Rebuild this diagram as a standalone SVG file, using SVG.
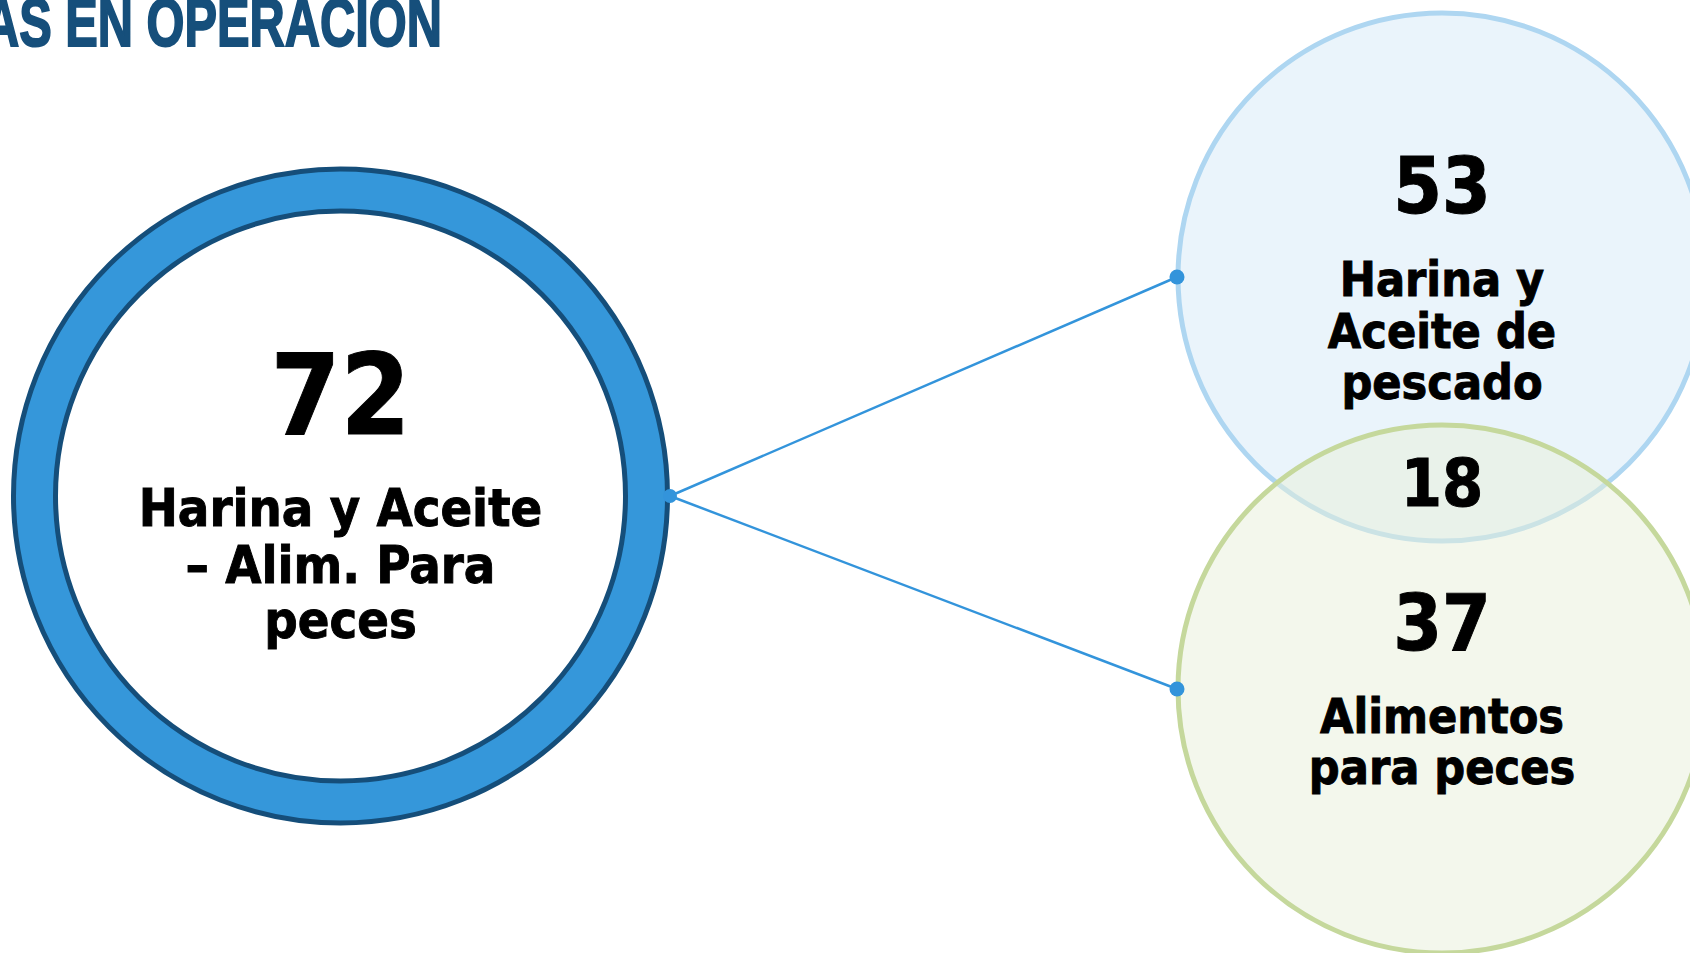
<svg xmlns="http://www.w3.org/2000/svg" width="1690" height="953" viewBox="0 0 1690 953">
  <style>
    .t { font-family: "DejaVu Sans Condensed", "DejaVu Sans", sans-serif; font-weight: bold; fill: #000; stroke: #000; stroke-width: 0.9; text-anchor: middle; }
    .title { font-family: "Liberation Sans", Arial, sans-serif; font-weight: bold; fill: #164F7B; stroke: #164F7B; stroke-width: 2; }
    .conn { stroke: #3394DB; stroke-width: 2.5; fill: none; }
    .dot { fill: #3394DB; }
  </style>
  <rect width="1690" height="953" fill="#FFFFFF"/>
  <text class="title" x="-16" y="46" font-size="69" textLength="458" lengthAdjust="spacingAndGlyphs">AS EN OPERACION</text>

  <g id="node-main">
    <circle cx="340.5" cy="496" r="327" fill="#3597DA" stroke="#154E7A" stroke-width="5"/>
    <circle cx="340.5" cy="496" r="285" fill="#FFFFFF" stroke="#154E7A" stroke-width="5"/>
    <text class="t" x="340.5" y="434" font-size="112">72</text>
    <text class="t" x="340.5" y="526" font-size="52">Harina y Aceite</text>
    <text class="t" x="340.5" y="583" font-size="52">– Alim. Para</text>
    <text class="t" x="340.5" y="638" font-size="52">peces</text>
  </g>

  <g id="node-harina">
    <circle cx="1442" cy="277" r="264" fill="#EAF4FB" stroke="#AED6F1" stroke-width="5"/>
  </g>
  <g id="node-alimentos">
    <circle cx="1442" cy="689" r="264" fill="rgb(231,239,217)" fill-opacity="0.5" stroke="#C5D89C" stroke-width="5"/>
  </g>
  <g id="labels-venn">
    <text class="t" x="1442" y="213" font-size="78">53</text>
    <text class="t" x="1442" y="296" font-size="48">Harina y</text>
    <text class="t" x="1442" y="348" font-size="48">Aceite de</text>
    <text class="t" x="1442" y="399" font-size="48">pescado</text>
    <text class="t" x="1442" y="506" font-size="66">18</text>
    <text class="t" x="1442" y="650" font-size="78">37</text>
    <text class="t" x="1442" y="733" font-size="48">Alimentos</text>
    <text class="t" x="1442" y="784" font-size="48">para peces</text>
  </g>

  <g id="connectors">
    <line class="conn" x1="670" y1="496" x2="1177" y2="277"/>
    <line class="conn" x1="670" y1="496" x2="1177" y2="689"/>
    <circle class="dot" cx="670" cy="496" r="7"/>
    <circle class="dot" cx="1177" cy="277" r="7.5"/>
    <circle class="dot" cx="1177" cy="689" r="7.5"/>
  </g>
</svg>
